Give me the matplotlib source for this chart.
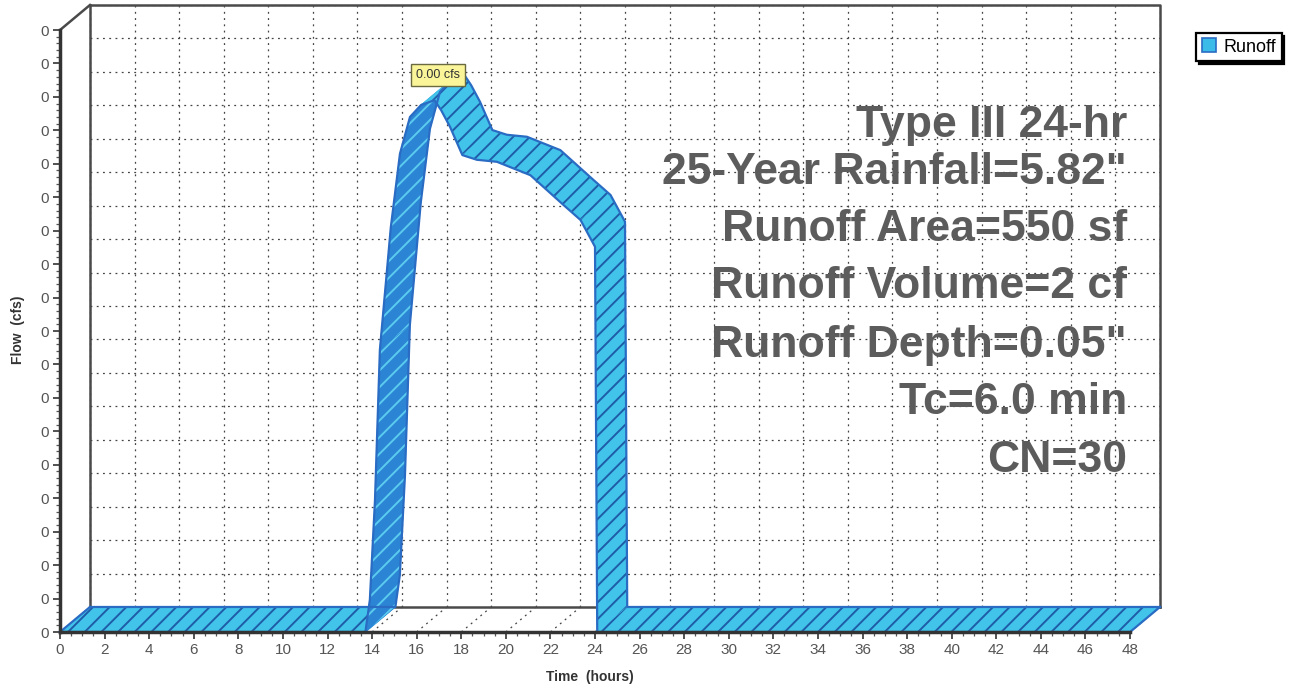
import numpy as np
import matplotlib.pyplot as plt
from matplotlib.patches import Polygon, Patch
from matplotlib.ticker import FixedLocator

plt.rcParams['font.family'] = ['Liberation Sans', 'DejaVu Sans']
plt.rcParams['hatch.linewidth'] = 1.4

# runoff hydrograph
hours = [0.0, 13.7, 13.9, 14.13, 14.35, 14.84, 15.25, 15.7, 16.2, 16.8, 17.1,
         17.5, 18.05, 18.7, 19.6, 21.1, 22.6, 23.35, 24.0, 24.1, 48.0]
flow = [0.0, 0.0, 4.8e-6, 1.97e-5, 4.22e-5, 6.05e-5, 7.15e-5, 7.7e-5, 7.88e-5,
        7.95e-5, 7.8e-5, 7.55e-5, 7.13e-5, 7.06e-5, 7.03e-5, 6.83e-5,
        6.38e-5, 6.16e-5, 5.76e-5, 0.0, 0.0]

x_ticks = list(range(0, 49, 2))
y_ticks = [i * 5e-6 for i in range(19)]
y_max = y_ticks[-1]
t_max = 48.0

notes = ['Type III 24-hr', '25-Year Rainfall=5.82"', 'Runoff Area=550 sf',
         'Runoff Volume=2 cf', 'Runoff Depth=0.05"', 'Tc=6.0 min', 'CN=30']

# depth of the pseudo-3d box (in data units)
DX = 1.345
DY = 3.74e-6

W, H = 1291, 690
fig = plt.figure(figsize=(W / 100, H / 100), dpi=100)
ax = fig.add_axes([60 / W, 58 / H, 1100 / W, 627 / H])
ax.set_xlim(0, t_max + DX)
ax.set_ylim(0, y_max + DY)
ax.patch.set_visible(False)

for s in ['top', 'right']:
    ax.spines[s].set_visible(False)
ax.spines['left'].set_bounds(0, y_max)
ax.spines['bottom'].set_bounds(0, t_max)
for s in ['left', 'bottom']:
    ax.spines[s].set_linewidth(2.5)
    ax.spines[s].set_color('#333333')
    ax.spines[s].set_zorder(6)

ax.set_xticks(x_ticks)
ax.set_xticklabels([str(v) for v in x_ticks])
ax.xaxis.set_minor_locator(FixedLocator(np.arange(0, t_max + 0.01, 0.5)))
ax.set_yticks(y_ticks)
ax.set_yticklabels(['%.0f' % v for v in y_ticks])
ax.yaxis.set_minor_locator(FixedLocator(np.arange(0, y_max + 1e-9, 1e-6)))
ax.tick_params(axis='both', which='major', length=5, width=1.2, color='#333333',
               labelcolor='#555555')
ax.tick_params(axis='both', which='minor', length=3, width=0.9, color='#555555')
ax.tick_params(axis='x', labelsize=11, pad=3)
ax.tick_params(axis='y', labelsize=11, pad=3)

ax.set_xlabel('Time  (hours)', fontsize=10, fontweight='bold', color='#333333')
ax.xaxis.set_label_coords(0.482, -0.072)
ax.xaxis.label.set_va('center')
ax.set_ylabel('Flow  (cfs)', fontsize=10, fontweight='bold', color='#333333')
ax.yaxis.set_label_coords(-0.038, 0.482)
ax.yaxis.label.set_va('center')

# back wall grid and floor
grid_kw = dict(color='#444444', lw=0.9, ls=(0, (1.5, 3.5)), zorder=2)
for v in x_ticks:
    ax.plot([v + DX, v + DX], [DY, y_max + DY], **grid_kw)
    ax.plot([v, v + DX], [0, DY], **grid_kw)
for v in y_ticks[1:]:
    ax.plot([DX, t_max + DX], [v + DY, v + DY], **grid_kw)

frame_kw = dict(color='#4a4a4a', lw=1.8, zorder=2.5, clip_on=False,
                solid_capstyle='projecting')
ax.plot([DX, t_max + DX, t_max + DX], [y_max + DY, y_max + DY, DY], **frame_kw)
ax.plot([DX, DX, t_max + DX], [y_max + DY, DY, DY], **frame_kw)
ax.plot([0, DX], [y_max, y_max + DY], **frame_kw)

# hydrograph ribbon
t = np.array(hours)
q = np.array(flow)
fig.canvas.draw()
for i in range(len(t) - 1):
    quad = [(t[i], q[i]), (t[i + 1], q[i + 1]),
            (t[i + 1] + DX, q[i + 1] + DY), (t[i] + DX, q[i] + DY)]
    p = ax.transData.transform(quad)
    a = p[1] - p[0]
    b = p[3] - p[0]
    under = a[0] * b[1] - a[1] * b[0] < 0
    face = '#2c84d4' if under else '#42c4ea'
    hatch_col = '#5bcbef' if under else '#1f5ca8'
    ax.add_patch(Polygon(quad, closed=True, fc=face, ec=face, lw=0.6,
                         zorder=3 + i * 0.001))
    ax.add_patch(Polygon(quad, closed=True, fc='none', ec=hatch_col, lw=0,
                         hatch='//', zorder=3 + i * 0.001 + 0.0005))

edge_kw = dict(color='#2a6cc4', lw=1.6, zorder=4, clip_on=False)
ax.plot(t, q, **edge_kw)
ax.plot(t + DX, q + DY, **edge_kw)
ax.plot([t[0], t[0] + DX], [q[0], q[0] + DY], **edge_kw)
ax.plot([t[-1], t[-1] + DX], [q[-1], q[-1] + DY], **edge_kw)

# peak label
k = int(np.argmax(q))
ax.annotate('%.2f cfs' % q[k], xy=(t[k], q[k]), xytext=(3, 19),
            textcoords='offset pixels', ha='center', va='bottom', fontsize=9,
            color='#333333', zorder=7,
            bbox=dict(boxstyle='square,pad=0.4', fc='#fbf59a', ec='#6a6a40',
                      lw=1))

# storm summary
note_y = [126, 172, 230, 287, 345, 403, 460]
for txt, yy in zip(notes, note_y):
    fig.text(1127 / W, 1 - yy / H, txt, ha='right', va='center', fontsize=32,
             fontweight='bold', color='#5c5c5c', zorder=1)

leg = fig.legend(handles=[Patch(fc='#3bbbe8', ec='#2a6cc4', lw=1.2)],
                 labels=['Runoff'], loc='center',
                 bbox_to_anchor=(1239 / W, 1 - 47 / H), fancybox=False,
                 shadow={'color': 'black', 'alpha': 1}, edgecolor='black',
                 framealpha=1, handlelength=0.8, handleheight=0.8,
                 fontsize=13, borderpad=0.3, handletextpad=0.4,
                 borderaxespad=0)
leg.get_frame().set_linewidth(1.6)

fig.savefig('out.png', dpi=100)
